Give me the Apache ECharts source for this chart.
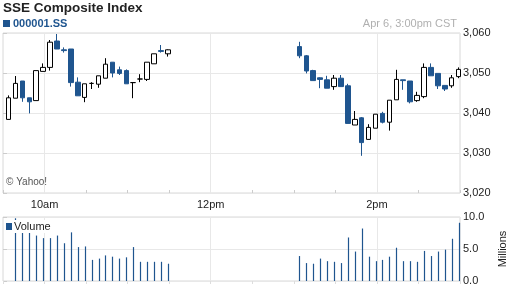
<!DOCTYPE html>
<html><head><meta charset="utf-8">
<script src="https://cdn.jsdelivr.net/npm/echarts@6/dist/echarts.min.js"></script>
<style>html,body{margin:0;padding:0;background:#fff}#c{width:512px;height:288px}</style>
</head><body><div id="c"></div>
<script>
var times = ["09:34","09:39","09:44","09:49","09:54","09:59","10:04","10:09","10:14","10:19","10:24","10:29",
"10:34","10:39","10:44","10:49","10:54","10:59","11:04","11:09","11:14","11:19","11:24","11:29",
"13:04","13:09","13:14","13:19","13:24","13:29","13:34","13:39","13:44","13:49","13:54","13:59",
"14:04","14:09","14:14","14:19","14:24","14:29","14:34","14:39","14:44","14:49","14:54","14:59"];
var opens = [3038.4,3043.7,3048.0,3043.8,3043.1,3050.4,3051.4,3058.0,3055.8,3056.0,3047.7,3043.9,
3047.4,3047.2,3048.7,3052.7,3050.8,3050.6,3047.6,3048.5,3048.4,3052.3,3055.6,3054.8,
3056.6,3054.3,3050.6,3048.8,3048.3,3046.6,3048.7,3046.8,3037.0,3038.8,3033.4,3036.2,
3039.9,3037.7,3043.3,3048.3,3048.0,3043.1,3044.1,3051.4,3049.9,3046.9,3046.8,3049.1];
var closes = [3043.8,3047.4,3043.8,3042.8,3050.6,3051.4,3057.7,3056.0,3055.6,3047.6,3044.3,3047.3,
3047.4,3049.3,3052.2,3050.0,3049.9,3047.3,3047.6,3048.5,3052.7,3054.8,3055.4,3055.8,
3054.3,3050.5,3048.1,3048.4,3046.2,3048.7,3046.6,3037.4,3038.4,3032.6,3036.4,3039.7,
3037.7,3043.2,3048.4,3048.1,3042.8,3044.4,3051.4,3049.3,3046.8,3046.0,3048.8,3050.9];
var lows = [3038.4,3043.7,3042.8,3039.9,3043.1,3050.4,3050.6,3056.0,3055.1,3046.6,3044.3,3042.7,
3046.0,3046.3,3048.7,3048.9,3049.5,3047.3,3043.7,3047.7,3048.0,3052.3,3055.1,3054.1,
3053.7,3049.9,3048.1,3046.2,3046.2,3045.8,3046.6,3037.4,3037.0,3029.3,3033.4,3036.2,
3037.4,3035.6,3043.3,3045.8,3042.4,3042.8,3043.7,3049.3,3046.0,3045.5,3046.3,3048.7];
var highs = [3044.4,3049.25,3048.0,3043.8,3050.6,3052.4,3058.25,3059.75,3056.4,3056.0,3048.9,3047.3,
3047.7,3049.3,3053.7,3052.7,3051.6,3050.9,3047.7,3049.7,3052.7,3054.8,3057.0,3055.9,
3057.8,3054.5,3050.8,3048.9,3049.3,3049.5,3049.5,3047.3,3040.5,3039.0,3037.2,3039.7,
3040.3,3043.2,3050.8,3048.3,3048.0,3045.3,3052.4,3052.4,3049.9,3046.9,3049.5,3051.4];
var volumes = [null,9.8,7.5,7.5,7.1,6.7,6.7,7.1,5.9,7.6,5.3,5.4,3.3,3.5,4.0,3.8,3.5,3.7,5.3,3.0,3.0,3.0,3.0,2.7,
3.9,2.8,2.7,3.5,3.1,3.0,2.8,6.8,4.6,8.2,3.8,3.1,3.3,3.8,5.2,3.1,3.1,3.0,4.7,3.9,4.6,4.9,6.6,9.1];
var xTickLabels = {30:"10am",150:"12pm",270:"2pm"};
var xGridTimes = ["10:00","12:00","14:00"];
var priceTicks = [3020,3030,3040,3050,3060];
var volTicks = [0,5,10];

function mins(t){var p=t.split(":");return (+p[0])*60+(+p[1])-570;}
var BLUE = "#1f558f";
var candleData = times.map(function(t,i){return [mins(t),opens[i],closes[i],lows[i],highs[i]];});
var volData = [];
times.forEach(function(t,i){ if(volumes[i]!=null) volData.push([mins(t),volumes[i]]); });
var gridMarks = xGridTimes.map(function(t){return {xAxis:mins(t)};});

var chart = echarts.init(document.getElementById('c'));
var font = "Liberation Sans, Arial, sans-serif";
chart.setOption({
  animation:false,
  textStyle:{fontFamily:font},
  grid:[
    {left:3,right:52,top:33,height:160,show:true,borderColor:'#d8d8d8',borderWidth:1,containLabel:false,outerBoundsMode:'none'},
    {left:3,right:52,top:217,height:64,show:true,borderColor:'#d8d8d8',borderWidth:1,containLabel:false,outerBoundsMode:'none'}
  ],
  xAxis:[
    {type:'value',gridIndex:0,min:0,max:330,interval:30,
     axisLine:{show:false},splitLine:{show:false},
     axisTick:{show:true,inside:true,length:3,lineStyle:{color:'#ccc'}},
     axisLabel:{margin:6,color:'#222',fontSize:11,fontFamily:font,formatter:function(v){return xTickLabels[v]||'';}}},
    {type:'value',gridIndex:1,min:0,max:330,interval:30,
     axisLine:{show:false},splitLine:{show:false},
     axisTick:{show:true,inside:false,length:3,lineStyle:{color:'#ddd'}},
     axisLabel:{show:false}}
  ],
  yAxis:[
    {type:'value',gridIndex:0,position:'right',min:priceTicks[0],max:priceTicks[priceTicks.length-1],interval:10,
     axisLine:{show:false},axisTick:{show:true,length:4,lineStyle:{color:'#ccc'}},
     splitLine:{lineStyle:{color:'#e8e8e8'}},
     axisLabel:{margin:3,color:'#222',fontSize:11,fontFamily:font,formatter:function(v){return v.toLocaleString('en-US');}}},
    {type:'value',gridIndex:1,position:'right',min:volTicks[0],max:volTicks[volTicks.length-1],interval:5,
     axisLine:{show:false},axisTick:{show:true,length:4,lineStyle:{color:'#ccc'}},
     splitLine:{lineStyle:{color:'#e8e8e8'}},
     name:'Millions',nameLocation:'middle',nameRotate:90,nameGap:37,
     nameTextStyle:{color:'#222',fontSize:11,fontFamily:font},
     axisLabel:{margin:3,color:'#222',fontSize:11,fontFamily:font,formatter:function(v){return v.toFixed(1);}}}
  ],
  series:[
    {type:'candlestick',name:'000001.SS',xAxisIndex:0,yAxisIndex:0,data:candleData,
     encode:{x:0,y:[1,2,3,4]},barWidth:5,z:3,
     itemStyle:{color:'#fff',color0:BLUE,borderColor:'#000',borderColor0:BLUE,borderColorDoji:'#000',borderWidth:1},
     markLine:{silent:true,symbol:'none',z:1,label:{show:false},lineStyle:{color:'#e8e8e8',type:'solid',width:1},data:gridMarks}},
    {type:'custom',name:'Volume',xAxisIndex:1,yAxisIndex:1,data:volData,z:3,
     encode:{x:0,y:1},
     renderItem:function(params,api){
       var p1=api.coord([api.value(0),0]);
       var p2=api.coord([api.value(0),api.value(1)]);
       var x=Math.round(p1[0])+0.5;
       return {type:'line',shape:{x1:x,y1:p1[1],x2:x,y2:p2[1]},style:{stroke:BLUE,lineWidth:1.2}};
     },
     markLine:{silent:true,symbol:'none',z:1,label:{show:false},lineStyle:{color:'#e8e8e8',type:'solid',width:1},data:gridMarks}}
  ],
  graphic:[
    {type:'text',left:3,top:1,style:{text:'SSE Composite Index',font:'bold 13.5px '+font,fill:'#222'}},
    {type:'rect',left:3,top:20,shape:{width:7,height:7},style:{fill:BLUE}},
    {type:'text',left:13,top:18,style:{text:'000001.SS',font:'bold 11px '+font,fill:BLUE}},
    {type:'text',right:55,top:18,style:{text:'Apr 6, 3:00pm CST',font:'11px '+font,fill:'#b0b0b0'}},
    {type:'text',left:6,top:177,style:{text:'\u00a9 Yahoo!',font:'10px '+font,fill:'#555'}},
    {type:'rect',left:5,top:220,z:10,shape:{width:46,height:13},style:{fill:'#fff'}},
    {type:'rect',left:6,top:223,z:11,shape:{width:6,height:7},style:{fill:BLUE}},
    {type:'text',left:14,top:221,z:11,style:{text:'Volume',font:'11px '+font,fill:'#222'}}
  ]
});
</script></body></html>
